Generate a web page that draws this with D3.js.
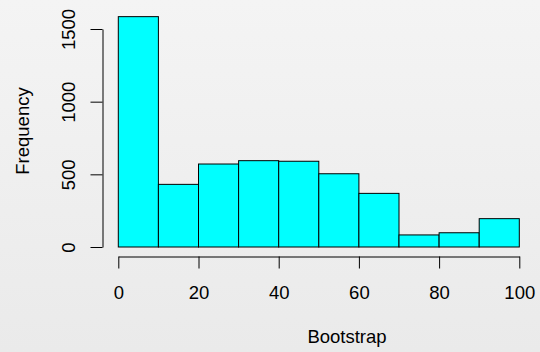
<!DOCTYPE html>
<html>
<head>
<meta charset="utf-8">
<script src="https://cdn.jsdelivr.net/npm/d3@7"></script>
<style>
html,body{margin:0;padding:0;}
svg{display:block;}
text{font-family:"Liberation Sans",Arial,sans-serif;fill:#000;}
</style>
</head>
<body>
<script>
const binStarts = [0,10,20,30,40,50,60,70,80,90];
const binWidth = 10;
const counts = [1585,431,571,594,590,504,369,83,98,195];
const xTicks = [0,20,40,60,80,100];
const yTicks = [0,500,1000,1500];
const xLabel = "Bootstrap";
const yLabel = "Frequency";

const W = 540, H = 352;
const FS = 18.5;
const svg = d3.select("body").append("svg").attr("width", W).attr("height", H);
const defs = svg.append("defs");
const g = defs.append("linearGradient").attr("id","bg").attr("x1",0).attr("y1",0).attr("x2",0).attr("y2",1);
g.append("stop").attr("offset","0%").attr("stop-color","#f4f4f4");
g.append("stop").attr("offset","100%").attr("stop-color","#eaeaea");
svg.append("rect").attr("width",W).attr("height",H).attr("fill","url(#bg)");

const x = d3.scaleLinear().domain([0,100]).range([118.3,519.3]);
const y = d3.scaleLinear().domain([0,1500]).range([247,29]);

// bars
svg.append("g").selectAll("rect").data(binStarts).join("rect")
  .attr("x", (d)=>x(d))
  .attr("width", (d)=>x(d+binWidth)-x(d))
  .attr("y", (d,i)=>y(counts[i]))
  .attr("height", (d,i)=>y(0)-y(counts[i]))
  .attr("fill","#00ffff").attr("stroke","#000").attr("stroke-width",1);

// x axis
const xa = svg.append("g").attr("transform","translate(0,256.5)")
  .call(d3.axisBottom(x).tickValues(xTicks).tickSize(12).tickPadding(17).tickSizeOuter(0));
xa.select(".domain").attr("stroke","#000").attr("stroke-width",1);
xa.selectAll(".tick line").attr("stroke","#000");
xa.selectAll("text").attr("font-size",FS).style("font-family",'"Liberation Sans",Arial,sans-serif');

// y axis
const ya = svg.append("g").attr("transform","translate(102.5,0)")
  .call(d3.axisLeft(y).tickValues(yTicks).tickSize(12).tickSizeOuter(0).tickFormat(d3.format("d")));
ya.select(".domain").attr("stroke","#000");
ya.selectAll(".tick line").attr("stroke","#000");
ya.selectAll("text")
  .attr("font-size",FS).style("font-family",'"Liberation Sans",Arial,sans-serif')
  .attr("x",null).attr("dy",null)
  .attr("text-anchor","middle")
  .attr("transform","translate(-27.5,0) rotate(-90)");

svg.append("text").attr("x",347).attr("y",343).attr("text-anchor","middle")
  .attr("font-size",FS).text(xLabel);
svg.append("text").attr("transform","translate(29.3,131) rotate(-90)").attr("text-anchor","middle")
  .attr("font-size",FS).text(yLabel);
</script>
</body>
</html>
